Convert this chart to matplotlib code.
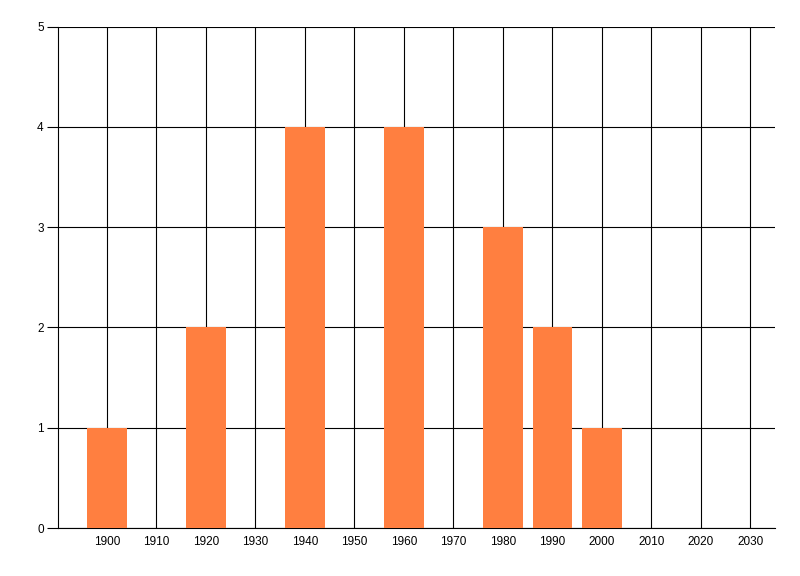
import matplotlib
matplotlib.use("Agg")
import matplotlib.pyplot as plt

years = [1900, 1920, 1940, 1960, 1980, 1990, 2000]
counts = [1, 2, 4, 4, 3, 2, 1]
xticks = list(range(1900, 2031, 10))
yticks = [0, 1, 2, 3, 4, 5]

plt.rcParams['font.family'] = ['Liberation Sans', 'DejaVu Sans']

fig = plt.figure(figsize=(8, 5.76), dpi=100)
ax = fig.add_axes([0.0719, 0.0833, 0.8968, 0.8704])

ax.bar(years, counts, width=8, color='#FF7F40', zorder=3)

ax.set_xlim(1890, 2035)
ax.set_ylim(0, 5)
ax.set_xticks(xticks)
ax.set_yticks(yticks)
ax.grid(True, color='black', linewidth=0.8, zorder=0)
ax.set_axisbelow(True)

for s in ['top', 'right']:
    ax.spines[s].set_visible(False)
for s in ['left', 'bottom']:
    ax.spines[s].set_linewidth(0.8)

ax.tick_params(axis='x', length=0, pad=6, labelsize=8.5)
ax.tick_params(axis='y', length=8, width=0.8, pad=2, labelsize=8.5)

fig.savefig('out.png', dpi=100)
